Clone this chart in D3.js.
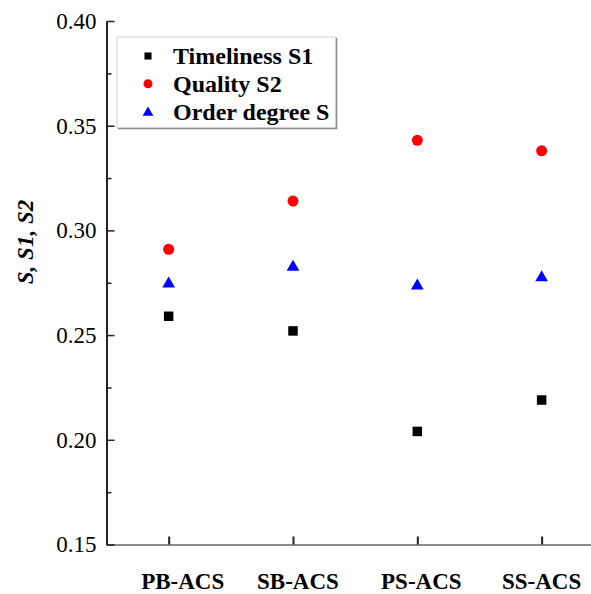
<!DOCTYPE html>
<html>
<head>
<meta charset="utf-8">
<script src="https://cdn.jsdelivr.net/npm/d3@7/dist/d3.min.js"></script>
<style>
  body { margin: 0; background: #fff; }
  svg { display: block; }
  svg text { font-family: "Liberation Serif", "Times New Roman", serif !important; fill: #000; }
</style>
</head>
<body>
<div id="chart"></div>
<script>
// values
var categories = ["PB-ACS", "SB-ACS", "PS-ACS", "SS-ACS"];
var timeliness = [0.259, 0.252, 0.204, 0.219];   // S1
var quality = [0.291, 0.314, 0.343, 0.338];      // S2
var order = [0.275, 0.283, 0.274, 0.278];        // S
var yTicks = [0.15, 0.20, 0.25, 0.30, 0.35, 0.40];
var yMinor = [0.175, 0.225, 0.275, 0.325, 0.375];
var legendNames = ["Timeliness S1", "Quality S2", "Order degree S"];

var width = 591, height = 594;

var svg = d3.select("#chart").append("svg")
    .attr("width", width)
    .attr("height", height)
    .attr("font-family", "Liberation Serif, serif");

var x = d3.scaleLinear().domain([0.5, 4.5]).range([106.5, 603.8]);
var y = d3.scaleLinear().domain([0.15, 0.40]).range([544.5, 21]);

// bottom axis (grey line, dark ticks pointing in)
var xAxis = d3.axisBottom(x)
    .tickValues([1, 2, 3, 4])
    .tickSize(-8)
    .tickSizeOuter(0)
    .tickFormat("");
var gx = svg.append("g")
    .attr("transform", "translate(0," + y(0.15) + ")")
    .call(xAxis);
gx.select(".domain").attr("stroke", "#8c8c8c").attr("stroke-width", 2);
gx.selectAll(".tick line").attr("stroke", "#222").attr("stroke-width", 2);

// category labels
svg.append("g").selectAll("text")
    .data(categories)
    .enter()
    .append("text")
    .attr("x", (d, i) => x(i + 1) + [14, 5, 4, 0][i])
    .attr("y", 589)
    .attr("text-anchor", "middle")
    .style("font-size", "23px")
    .style("font-weight", "bold")
    .text(d => d);

// left axis
var yAxis = d3.axisLeft(y)
    .tickValues(yTicks)
    .tickSize(-8)
    .tickSizeOuter(0)
    .tickPadding(10)
    .tickFormat(d3.format(".2f"));
var gy = svg.append("g")
    .attr("transform", "translate(" + x(0.5) + ",0)")
    .call(yAxis)
    .attr("font-family", "Liberation Serif, serif");
gy.select(".domain").attr("stroke", "#222").attr("stroke-width", 2);
gy.selectAll(".tick line").attr("stroke", "#222").attr("stroke-width", 1.5);
gy.selectAll(".tick text")
    .style("font-size", "23px")
    .attr("fill", "#000");

var gyMinor = svg.append("g")
    .attr("transform", "translate(" + x(0.5) + ",0)")
    .call(d3.axisLeft(y).tickValues(yMinor).tickSize(-5).tickSizeOuter(0).tickFormat(""));
gyMinor.select(".domain").remove();
gyMinor.selectAll(".tick line").attr("stroke", "#222").attr("stroke-width", 1.5);

// y title
svg.append("text")
    .attr("transform", "translate(33,242) rotate(-90)")
    .attr("text-anchor", "middle")
    .style("font-size", "23px")
    .style("font-weight", "bold")
    .style("font-style", "italic")
    .text("S, S1, S2");

var sq = d3.symbol().type(d3.symbolSquare);
var tri = d3.symbol().type(d3.symbolTriangle);

// points
svg.append("g").selectAll("path")
    .data(timeliness)
    .enter()
    .append("path")
    .attr("d", sq.size(90)())
    .attr("transform", (d, i) => "translate(" + x(i + 1) + "," + y(d) + ")")
    .attr("fill", "#000");

svg.append("g").selectAll("circle")
    .data(quality)
    .enter()
    .append("circle")
    .attr("cx", (d, i) => x(i + 1))
    .attr("cy", d => y(d))
    .attr("r", 5.5)
    .attr("fill", "#ff0000");

svg.append("g").selectAll("path")
    .data(order)
    .enter()
    .append("path")
    .attr("d", tri.size(70)())
    .attr("transform", (d, i) => "translate(" + x(i + 1) + "," + (y(d) + 1) + ")")
    .attr("fill", "#0000ff");

// legend
var lg = svg.append("g");
lg.append("rect")
    .attr("x", 117).attr("y", 37)
    .attr("width", 219).attr("height", 91)
    .attr("fill", "#fff")
    .attr("stroke", "#cfcfcf");
lg.append("path")
    .attr("d", "M336.5,38V128.5H118")
    .attr("fill", "none")
    .attr("stroke", "#8a8a8a")
    .attr("stroke-width", 1.5);

var rows = lg.selectAll("g.row")
    .data(legendNames)
    .enter()
    .append("g")
    .attr("class", "row")
    .attr("transform", (d, i) => "translate(148," + (56 + i * 27.8) + ")");

rows.each(function(d, i) {
    var g = d3.select(this);
    if (i === 0) g.append("path").attr("d", sq.size(50)()).attr("fill", "#000");
    if (i === 1) g.append("circle").attr("r", 4.5).attr("fill", "#ff0000");
    if (i === 2) g.append("path").attr("d", tri.size(50)()).attr("transform", "translate(0,1)").attr("fill", "#0000ff");
});

rows.append("text")
    .attr("x", 25)
    .attr("dy", "0.35em")
    .style("font-size", "24px")
    .style("font-weight", "bold")
    .text(d => d);
</script>
</body>
</html>
